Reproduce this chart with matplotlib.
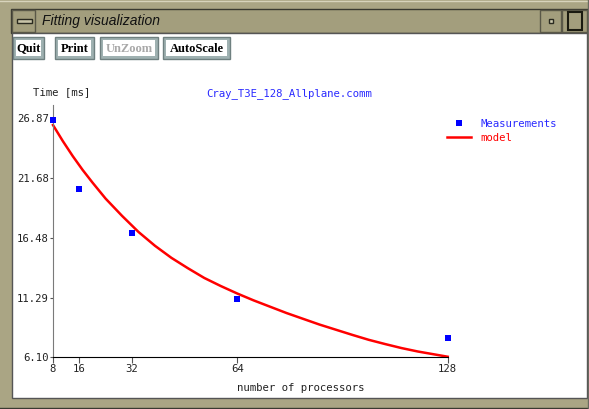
import matplotlib
matplotlib.use("Agg")
import matplotlib.pyplot as plt
from matplotlib.patches import Rectangle
from matplotlib.lines import Line2D

procs = [8, 16, 32, 64, 128]
times = [26.74, 20.74, 16.94, 11.18, 7.78]

# fitted model curve, sampled by eye along the red line
model_procs = [8, 11, 14, 17, 20, 24, 29, 34, 39, 44, 49, 54, 59, 64, 69, 74,
               79, 84, 89, 94, 99, 104, 109, 114, 119, 124, 128]
model_times = [26.3, 24.9, 23.6, 22.4, 21.3, 19.9, 18.4, 17.0, 15.8, 14.75,
               13.85, 13.0, 12.3, 11.65, 11.05, 10.5, 9.95, 9.45, 8.95, 8.5,
               8.05, 7.62, 7.25, 6.9, 6.6, 6.35, 6.15]

xticks = [8, 16, 32, 64, 128]
yticks = [6.10, 11.29, 16.48, 21.68, 26.87]
buttons = ["Quit", "Print", "UnZoom", "AutoScale"]

W, H = 589, 409
mono = "DejaVu Sans Mono"
frame_col = "#aaa584"
bar_col = "#a39e7d"

fig = plt.figure(figsize=(W / 100, H / 100), dpi=100, facecolor=frame_col)

# window chrome drawn in pixel coordinates
bg = fig.add_axes([0, 0, 1, 1])
bg.set_xlim(0, W)
bg.set_ylim(H, 0)
bg.axis("off")
bg.add_patch(Rectangle((0, 0), W, H, fc=frame_col, ec="none"))
bg.add_patch(Rectangle((11, 9), 577, 24, fc=bar_col, ec="#3a3a30", lw=1))
bg.add_patch(Rectangle((12, 33), 575, 365, fc="white", ec="#555555", lw=1))
bg.plot([0, W], [0.5, 0.5], color="#d8d4bc", lw=1)
bg.plot([0, W], [407.5, 407.5], color="#3a3a30", lw=1)
bg.plot([588, 588], [0, H], color="#6a6a60", lw=1)

# title bar buttons
bg.add_patch(Rectangle((12, 10), 23, 22, fc=bar_col, ec="#5a5848", lw=1))
bg.add_patch(Rectangle((17, 19), 15, 4, fc="#c8c4a8", ec="#2a2a20", lw=1))
bg.add_patch(Rectangle((540, 10), 21, 22, fc=bar_col, ec="#5a5848", lw=1))
bg.add_patch(Rectangle((549, 19), 4, 4, fc="#d0ccb0", ec="#2a2a20", lw=1))
bg.add_patch(Rectangle((562, 10), 25, 22, fc=bar_col, ec="#5a5848", lw=1))
bg.add_patch(Rectangle((568, 12), 14, 18, fc=bar_col, ec="#1a1a10", lw=1.5))
bg.text(42, 21, "Fitting visualization", fontsize=10, family="Liberation Sans",
        style="italic", color="#111111", va="center", ha="left")

# push buttons
bx = [13, 55, 100, 163]
bw = [31, 39, 58, 67]
for x0, w, label in zip(bx, bw, buttons):
    bg.add_patch(Rectangle((x0, 37), w, 22, fc="#9fb1b1", ec="#6f8080", lw=1))
    bg.add_patch(Rectangle((x0 + 3, 40), w - 6, 16, fc="white", ec="none"))
    col = "#a8a8a8" if label == "UnZoom" else "black"
    bg.text(x0 + w / 2, 48.5, label, fontsize=9, family="Liberation Serif",
            weight="bold", color=col, ha="center", va="center")

# the chart itself
top = 26.87 + (118.5 - 105) * (20.77 / 238.8)
ax = fig.add_axes([53 / W, (H - 357.3) / H, (447.7 - 53) / W, (357.3 - 105) / H])
ax.set_facecolor("white")
ax.plot(model_procs, model_times, color="#ff0000", lw=1.8, label="model", clip_on=False)
ax.plot(procs, times, "s", color="#0000ff", ms=4.2, mew=0, label="Measurements",
        clip_on=False, zorder=5)
ax.set_xlim(8, 128)
ax.set_ylim(6.10, top)
ax.set_xticks(xticks)
ax.set_xticklabels([str(t) for t in xticks])
ax.set_yticks(yticks)
ax.set_yticklabels(["%.2f" % t for t in yticks])
for s in ["top", "right"]:
    ax.spines[s].set_visible(False)
ax.spines["left"].set_color("#7a7a7a")
ax.spines["bottom"].set_color("black")
ax.tick_params(axis="x", length=4, width=0.8, color="#555555", pad=1,
               labelsize=7.7, labelcolor="#222222")
ax.tick_params(axis="y", length=2, width=0.8, color="#555555", pad=1,
               labelsize=7.7, labelcolor="#222222")
for lab in ax.get_xticklabels() + ax.get_yticklabels():
    lab.set_family(mono)

fig.text(33 / W, 1 - 92 / H, "Time [ms]", family=mono, fontsize=7.7,
         color="#222222", ha="left", va="center")
fig.text(289 / W, 1 - 94 / H, "Cray_T3E_128_Allplane.comm", family=mono,
         fontsize=7.7, color="#2a2aff", ha="center", va="center")
fig.text(301 / W, 1 - 388 / H, "number of processors", family=mono,
         fontsize=7.7, color="#222222", ha="center", va="center")

handles = [Line2D([], [], ls="none", marker="s", color="#0000ff", ms=4.2, mew=0),
           Line2D([], [], color="#ff0000", lw=1.8)]
leg = fig.legend(handles, ["Measurements", "model"], loc="upper left",
                 bbox_to_anchor=(447 / W, 1 - 119 / H), frameon=False,
                 borderpad=0, borderaxespad=0, handlelength=2.2,
                 handletextpad=0.9, labelspacing=0.35,
                 prop={"family": mono, "size": 7.7})
leg.get_texts()[0].set_color("#2a2aff")
leg.get_texts()[1].set_color("#ff0000")

fig.savefig("out.png", dpi=100, facecolor=frame_col)
